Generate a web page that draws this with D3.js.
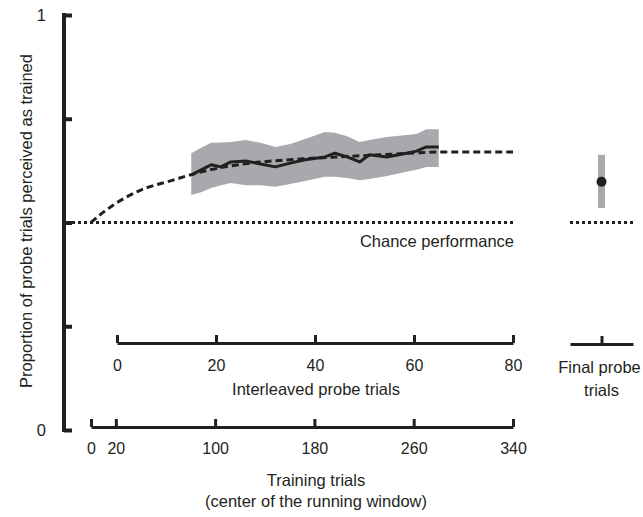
<!DOCTYPE html>
<html>
<head>
<meta charset="utf-8">
<script src="https://cdn.jsdelivr.net/npm/d3@7"></script>
<style>
    body { margin: 0; background: #fff; }
    text { font-family: "Liberation Sans", Arial, sans-serif; fill: #231f20; }
    .axis text { font-size: 16px; }
    .axis path, .axis line { stroke: #231f20; }
    .label { font-size: 16.5px; }
</style>
</head>
<body>
<div id="chart"></div>
<script>

// y ticks
let yTicks = [0, 0.25, 0.5, 0.75, 1]
let yTickLabels = {0: '0', 1: '1'}

// bottom axes
let probeTicks = [0, 20, 40, 60, 80]
let trainTicks = [0, 20, 100, 180, 260, 340]

// running-window estimate (x = interleaved probe trial)
let probeX    = [15, 17, 19, 21, 23, 26, 29, 32, 35, 38, 42, 44, 46.5, 49, 51, 54.5, 58.5, 60.5, 62.5, 65]
let probeMean = [0.614, 0.627, 0.639, 0.634, 0.646, 0.648, 0.641, 0.634, 0.643, 0.651, 0.658, 0.667, 0.658, 0.646, 0.663, 0.658, 0.667, 0.672, 0.682, 0.682]
let probeHigh = [0.667, 0.680, 0.692, 0.693, 0.694, 0.699, 0.692, 0.682, 0.689, 0.701, 0.718, 0.716, 0.708, 0.694, 0.699, 0.706, 0.711, 0.713, 0.725, 0.725]
let probeLow  = [0.566, 0.573, 0.583, 0.590, 0.595, 0.590, 0.590, 0.586, 0.593, 0.600, 0.610, 0.610, 0.607, 0.602, 0.605, 0.612, 0.622, 0.627, 0.634, 0.634]

// model curve (x = training trial)
let modelX = [0, 10, 40, 66, 85, 128, 160, 233, 287, 340]
let modelY = [0.5, 0.525, 0.578, 0.602, 0.619, 0.643, 0.651, 0.663, 0.67, 0.67]

// final probe
let finalCategory = ['Final probe trials']
let finalMean = [0.598]
let finalLow = [0.535]
let finalHigh = [0.663]

let chance = 0.5

let width = 643, height = 517

let svg = d3.select('#chart').append('svg')
    .attr('width', width)
    .attr('height', height)

// scales
let y = d3.scaleLinear().domain([0, 1]).range([430, 15])
let xProbe = d3.scaleLinear().domain([0, 80]).range([117, 513])
let xTrain = d3.scaleLinear().domain([0, 340]).range([91, 513])
let xFinal = d3.scalePoint().domain(finalCategory).range([570, 633]).padding(0.5)

// y axis
let yAxis = svg.append('g')
    .attr('class', 'axis y-axis')
    .attr('transform', 'translate(64,0)')
    .call(d3.axisLeft(y).tickValues(yTicks).tickSize(-8).tickSizeOuter(0).tickPadding(18)
        .tickFormat(d => yTickLabels[d] || ''))
yAxis.select('.domain').attr('stroke-width', 4).attr('d', 'M0,432V13')
yAxis.selectAll('.tick line').attr('stroke-width', 4)
yAxis.selectAll('.tick text').attr('dy', '0.35em').style('font-size', '16.5px')

svg.append('text')
    .attr('class', 'label')
    .attr('transform', 'translate(32,221) rotate(-90)')
    .attr('text-anchor', 'middle')
    .text('Proportion of probe trials perceived as trained')

// chance lines
svg.append('line')
    .attr('x1', 66).attr('x2', xTrain(340))
    .attr('y1', y(chance)).attr('y2', y(chance))
    .attr('stroke', '#231f20').attr('stroke-width', 3)
    .attr('stroke-dasharray', '3,3')

svg.append('line')
    .attr('x1', 570).attr('x2', 633)
    .attr('y1', y(chance)).attr('y2', y(chance))
    .attr('stroke', '#231f20').attr('stroke-width', 3)
    .attr('stroke-dasharray', '3,3')

svg.append('text')
    .attr('class', 'label')
    .attr('x', 514).attr('y', 247)
    .attr('text-anchor', 'end')
    .text('Chance performance')

// grey band
let bandData = probeX.map((p, i) => ({x: p, lo: probeLow[i], hi: probeHigh[i], m: probeMean[i]}))

svg.append('path')
    .datum(bandData)
    .attr('fill', '#a7a9ac')
    .attr('d', d3.area()
        .x(d => xProbe(d.x))
        .y0(d => y(d.lo))
        .y1(d => y(d.hi)))

// model dashed curve
let modelData = modelX.map((t, i) => ({x: t, v: modelY[i]}))
svg.append('path')
    .datum(modelData)
    .attr('fill', 'none')
    .attr('stroke', '#231f20')
    .attr('stroke-width', 3)
    .attr('stroke-dasharray', '7,4')
    .attr('d', d3.line()
        .x(d => xTrain(d.x))
        .y(d => y(d.v))
        .curve(d3.curveMonotoneX))

// mean solid line
svg.append('path')
    .datum(bandData)
    .attr('fill', 'none')
    .attr('stroke', '#231f20')
    .attr('stroke-width', 3)
    .attr('stroke-linejoin', 'round')
    .attr('d', d3.line()
        .x(d => xProbe(d.x))
        .y(d => y(d.m)))

// probe axis
let probeAxis = svg.append('g')
    .attr('class', 'axis x-axis')
    .attr('transform', 'translate(0,343)')
    .call(d3.axisBottom(xProbe).tickValues(probeTicks).tickSize(-8).tickSizeOuter(0).tickPadding(17))
probeAxis.select('.domain').attr('stroke-width', 3)
probeAxis.selectAll('.tick line').attr('stroke-width', 3)

svg.append('text')
    .attr('class', 'label')
    .attr('x', 316).attr('y', 395)
    .attr('text-anchor', 'middle')
    .text('Interleaved probe trials')

// training axis
let trainAxis = svg.append('g')
    .attr('class', 'axis x-axis')
    .attr('transform', 'translate(0,427)')
    .call(d3.axisBottom(xTrain).tickValues(trainTicks).tickSize(-8).tickSizeOuter(0).tickPadding(16))
trainAxis.select('.domain').attr('stroke-width', 3)
trainAxis.selectAll('.tick line').attr('stroke-width', 3)

svg.append('text')
    .attr('class', 'label')
    .attr('x', 316).attr('y', 486)
    .attr('text-anchor', 'middle')
    .text('Training trials')

svg.append('text')
    .attr('class', 'label')
    .attr('x', 316).attr('y', 507)
    .attr('text-anchor', 'middle')
    .text('(center of the running window)')

// final probe axis
let finalAxis = svg.append('g')
    .attr('class', 'axis x-axis')
    .attr('transform', 'translate(0,344)')
    .call(d3.axisBottom(xFinal).tickSize(-8).tickSizeOuter(0).tickFormat(''))
finalAxis.select('.domain').attr('stroke-width', 3)
finalAxis.selectAll('.tick line').attr('stroke-width', 3)

let finalLabel = svg.append('text')
    .attr('class', 'label')
    .attr('text-anchor', 'middle')
finalLabel.append('tspan').attr('x', xFinal(finalCategory[0]) - 2).attr('y', 373).text('Final probe')
finalLabel.append('tspan').attr('x', xFinal(finalCategory[0])).attr('y', 396).text('trials')

// final point
svg.selectAll('.final-bar')
    .data(finalCategory)
    .enter().append('line')
    .attr('class', 'final-bar')
    .attr('x1', d => xFinal(d)).attr('x2', d => xFinal(d))
    .attr('y1', (d, i) => y(finalLow[i]))
    .attr('y2', (d, i) => y(finalHigh[i]))
    .attr('stroke', '#a7a9ac')
    .attr('stroke-width', 7)

svg.selectAll('.final-dot')
    .data(finalCategory)
    .enter().append('circle')
    .attr('class', 'final-dot')
    .attr('cx', d => xFinal(d))
    .attr('cy', (d, i) => y(finalMean[i]))
    .attr('r', 5)
    .attr('fill', '#231f20')

</script>
</body>
</html>
